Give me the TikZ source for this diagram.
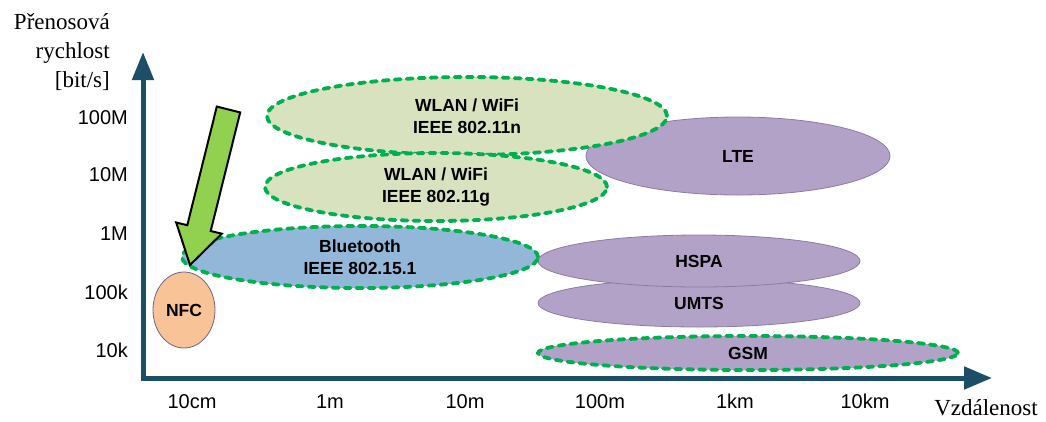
\documentclass[tikz,border=0pt]{standalone}
\usepackage{fontspec}
\setmainfont{Liberation Serif}
\setsansfont{Liberation Sans}
\usetikzlibrary{arrows.meta,shapes.geometric,positioning}

\definecolor{axisblue}{HTML}{1D4E68}
\definecolor{dashgreen}{HTML}{00B050}
\definecolor{wlanfill}{HTML}{D9E2BE}
\definecolor{cellfill}{HTML}{B3A2C7}
\definecolor{celledge}{HTML}{8C7BA3}
\definecolor{btfill}{HTML}{93B7D8}
\definecolor{nfcfill}{HTML}{F9C398}
\definecolor{arrowgreen}{HTML}{92D050}

\begin{document}
\begin{tikzpicture}[x=1pt,y=-1pt,
  axis/.style={line width=5pt,draw=axisblue,{Triangle[length=28pt,width=21pt]}-{Triangle[length=28pt,width=22pt]}},
  tick/.style={font=\sffamily\fontsize{20}{24}\selectfont,inner sep=0pt},
  title/.style={font=\rmfamily\fontsize{23}{29}\selectfont,inner sep=0pt},
  tech/.style={ellipse,inner sep=0pt,align=center,font=\sffamily\bfseries\fontsize{17.5}{22}\selectfont},
  cell/.style={tech,fill=cellfill,draw=celledge,line width=0.8pt},
  wifi/.style={draw=dashgreen,line width=3.8pt,dash pattern=on 6pt off 6pt,line cap=round}]

\useasboundingbox (0,0) rectangle (1046,421);

% axes
\coordinate (ytip) at (143,52);
\coordinate (origin) at (143,378);
\coordinate (xtip) at (992,378);
\draw[axis] (ytip) -- (origin) -- (xtip);

\node[title,anchor=north east,align=right] (ylab) at (110,13) {Přenosová\\rychlost\\{[}bit/s{]}};
\node[title,anchor=base] (xlab) at (986,415) {Vzdálenost};

% rate ticks
\node[tick,anchor=base east] (r100M) at (128,124) {100M};
\node[tick,anchor=base east] (r10M) at (128,181) {10M};
\node[tick,anchor=base east] (r1M) at (128,240) {1M};
\node[tick,anchor=base east] (r100k) at (128,299) {100k};
\node[tick,anchor=base east] (r10k) at (128,357) {10k};

% distance ticks
\node[tick,anchor=base] (d10cm) at (192,408) {10cm};
\node[tick,anchor=base] (d1m) at (330,408) {1m};
\node[tick,anchor=base] (d10m) at (465,408) {10m};
\node[tick,anchor=base] (d100m) at (600,408) {100m};
\node[tick,anchor=base] (d1km) at (735,408) {1km};
\node[tick,anchor=base] (d10km) at (865,408) {10km};

% technologies
\node[cell,minimum width=304pt,minimum height=78pt] (lte) at (738,156) {LTE};
\node[cell,minimum width=322pt,minimum height=48pt] (umts) at (699,303) {UMTS};
\node[cell,minimum width=322pt,minimum height=52pt] (hspa) at (699,261) {HSPA};
\node[cell,wifi,minimum width=420pt,minimum height=34pt] (gsm) at (748,353) {GSM};
\node[tech,wifi,fill=wlanfill,minimum width=400pt,minimum height=78pt] (wlann) at (467,116) {WLAN / WiFi\\IEEE 802.11n};
\node[tech,wifi,fill=wlanfill,minimum width=342pt,minimum height=68pt] (wlang) at (436,187) {WLAN / WiFi\\IEEE 802.11g};
\node[tech,wifi,fill=btfill,minimum width=356pt,minimum height=62pt] (bt) at (360,257) {Bluetooth\\IEEE 802.15.1};
\node[tech,fill=nfcfill,draw=celledge!80!black,line width=0.8pt,minimum width=62pt,minimum height=76pt] (nfc) at (184,310) {NFC};

% green pointer
\draw[fill=arrowgreen,draw=black,line width=2pt,line join=miter]
  (216.8,106.6) -- (240.2,112.4) -- (210.7,231) -- (221.8,233.7)
  -- (190,265) -- (176.2,222.5) -- (187.3,225.2) -- cycle;

\end{tikzpicture}
\end{document}
